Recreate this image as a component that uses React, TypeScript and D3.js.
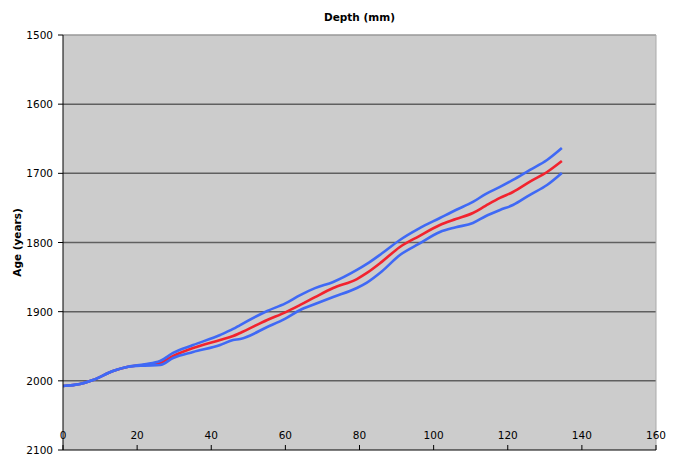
import React from "react";
import * as d3 from "d3";

// depth (mm) and modelled age (years) — upper bound, best estimate, lower bound
const depth = [0, 4.6, 8.1, 13.5, 17.3, 22, 26.2, 29.7, 35.1, 42.4, 45.9, 47.8, 55.1, 60, 64, 68, 72.9, 79.3, 82, 86, 90.9, 96, 101.7, 106, 110.6, 114, 117.9, 121.4, 126, 130.6, 134.6];
const ageUpper = [2007.4, 2004.6, 1998.8, 1985.8, 1980, 1976, 1971.3, 1959.7, 1948.2, 1933.7, 1925, 1919.3, 1899, 1888, 1876, 1866, 1857.1, 1839.7, 1831, 1816, 1796.4, 1780, 1764.6, 1753, 1741.4, 1730, 1719.7, 1709.6, 1695, 1680.7, 1663.4];
const ageMid = [2007.4, 2004.6, 1998.8, 1985.8, 1980, 1977, 1974.2, 1964.1, 1952.5, 1940.9, 1935.2, 1930.8, 1912, 1901, 1890.3, 1879, 1865.8, 1852.8, 1844, 1828, 1806.5, 1791, 1774.7, 1766, 1757.3, 1747, 1735.6, 1727, 1712, 1698.1, 1682.2];
const ageLower = [2007.4, 2004.6, 1998.8, 1985.8, 1980, 1978, 1977.1, 1967, 1958.3, 1948.2, 1940.9, 1939.5, 1922.2, 1910, 1897.6, 1889, 1878.8, 1865.8, 1858, 1842, 1818.1, 1802, 1784.8, 1778, 1771.8, 1762, 1753, 1745.8, 1731, 1716.9, 1699.5];

const xTicks = [0, 20, 40, 60, 80, 100, 120, 140, 160];
const yTicks = [1500, 1600, 1700, 1800, 1900, 2000, 2100];

const W = 674;
const H = 456;
const left = 63, right = 656, top = 35, bottom = 450;
const font = "'DejaVu Sans', Verdana, sans-serif";

export default function App() {
  const x = d3.scaleLinear().domain([0, 160]).range([left, right]);
  const y = d3.scaleLinear().domain([1500, 2100]).range([top, bottom]);

  const line = (ages: number[]) =>
    d3
      .line<number>()
      .x((_, i) => x(depth[i]))
      .y((d) => y(d))
      .curve(d3.curveMonotoneX)(ages) || "";

  return (
    <svg width={W} height={H} style={{ position: "absolute", left: 0, top: 0 }}>
      <rect x={0} y={0} width={W} height={H} fill="#ffffff" />
      <rect x={left} y={top} width={right - left} height={bottom - top} fill="#cccccc" />

      {/* gridlines */}
      {yTicks.slice(1, -1).map((t) => (
        <line key={t} x1={left} x2={right} y1={y(t)} y2={y(t)} stroke="#5f5f5f" strokeWidth={1.5} />
      ))}

      {/* frame */}
      <line x1={left} x2={right} y1={top} y2={top} stroke="#999999" strokeWidth={1.5} />
      <line x1={right} x2={right} y1={top} y2={bottom} stroke="#aaaaaa" strokeWidth={1} />

      {/* series */}
      <path d={line(ageMid)} fill="none" stroke="#f2232e" strokeWidth={2.6} strokeLinejoin="round" />
      <path d={line(ageUpper)} fill="none" stroke="#3f69f5" strokeWidth={2.6} strokeLinejoin="round" />
      <path d={line(ageLower)} fill="none" stroke="#3f69f5" strokeWidth={2.6} strokeLinejoin="round" />

      {/* axes */}
      <line x1={left} x2={left} y1={top} y2={bottom} stroke="#000" strokeWidth={1} />
      <line x1={left} x2={right} y1={bottom} y2={bottom} stroke="#000" strokeWidth={1} />

      {yTicks.map((t) => (
        <g key={t}>
          <line x1={left - 5} x2={left} y1={y(t)} y2={y(t)} stroke="#000" />
          <text x={left - 10} y={y(t) + 4} textAnchor="end" fontFamily={font} fontSize={10.5} fill="#000">
            {t}
          </text>
        </g>
      ))}

      {xTicks.map((t) => (
        <g key={t}>
          <line x1={x(t)} x2={x(t)} y1={bottom - 5} y2={bottom} stroke="#000" />
          <text x={x(t)} y={bottom - 11} textAnchor="middle" fontFamily={font} fontSize={10.5} fill="#000">
            {t}
          </text>
        </g>
      ))}

      <text x={(left + right) / 2} y={21} textAnchor="middle" fontFamily={font} fontSize={10.5} fontWeight="bold" fill="#000">
        Depth (mm)
      </text>
      <text
        transform={`translate(21,${(top + bottom) / 2}) rotate(-90)`}
        textAnchor="middle"
        fontFamily={font}
        fontSize={10.5}
        fontWeight="bold"
        fill="#000"
      >
        Age (years)
      </text>
    </svg>
  );
}
